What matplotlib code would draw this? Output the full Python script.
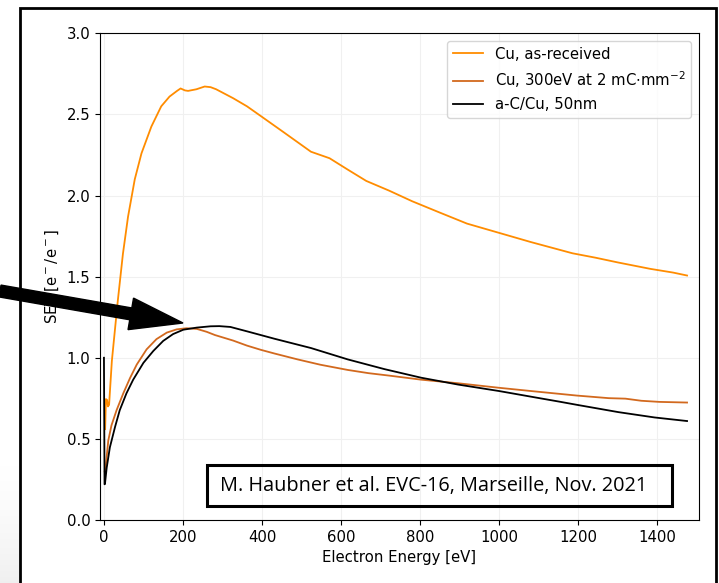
import matplotlib
matplotlib.use("Agg")
import matplotlib.pyplot as plt
import numpy as np
from matplotlib.patches import FancyArrow, Rectangle
from matplotlib.transforms import IdentityTransform

plt.rcParams["font.size"] = 10.7

# Cu, as-received
cu_raw_energy = [3, 5, 8, 10, 13, 20, 35, 48, 61, 78, 95, 120, 145, 166, 185, 194,
                 205, 213, 234, 255, 270, 284, 327, 362, 397, 455, 524, 571, 617,
                 664, 722, 780, 849, 919, 1000, 1081, 1186, 1244, 1302, 1383,
                 1441, 1476]
cu_raw_sey = [0.56, 0.745, 0.74, 0.70, 0.71, 0.98, 1.35, 1.64, 1.87, 2.10, 2.26,
              2.425, 2.55, 2.61, 2.645, 2.66, 2.648, 2.645, 2.655, 2.672, 2.668,
              2.655, 2.60, 2.55, 2.49, 2.39, 2.27, 2.23, 2.16, 2.09, 2.03, 1.965,
              1.896, 1.827, 1.77, 1.713, 1.644, 1.617, 1.587, 1.548, 1.525, 1.507]

# Cu, 300eV at 2 mC/mm^2
cu_cond_energy = [2, 5, 11, 19, 32, 49, 66, 83, 108, 133, 159, 184, 209, 235, 260,
                  281, 327, 362, 397, 432, 490, 548, 617, 670, 722, 803, 896, 1000,
                  1093, 1197, 1278, 1320, 1360, 1406, 1476]
cu_cond_sey = [0.30, 0.344, 0.49, 0.583, 0.677, 0.781, 0.875, 0.958, 1.052, 1.115,
               1.155, 1.175, 1.182, 1.178, 1.16, 1.14, 1.106, 1.075, 1.049, 1.026,
               0.99, 0.957, 0.925, 0.905, 0.89, 0.865, 0.843, 0.815, 0.792, 0.767,
               0.751, 0.748, 0.735, 0.728, 0.724]

# a-C/Cu, 50nm
ac_energy = [0, 1.5, 2.5, 7, 15, 28, 40, 57, 74, 100, 125, 150, 175, 201, 235,
             270, 292, 320, 362, 432, 524, 617, 710, 803, 896, 1000, 1093, 1154,
             1197, 1302, 1394, 1476]
ac_sey = [1.0, 0.22, 0.222, 0.323, 0.448, 0.573, 0.677, 0.781, 0.865, 0.969,
          1.042, 1.104, 1.146, 1.173, 1.186, 1.194, 1.195, 1.19, 1.163, 1.117,
          1.06, 0.99, 0.93, 0.877, 0.835, 0.795, 0.755, 0.729, 0.71, 0.665,
          0.632, 0.61]

W, H = 719, 583
fig = plt.figure(figsize=(W / 100, H / 100), dpi=100)

# soft grey slide shading in the lower left corner (light on top, darker below)
bg = fig.add_axes([0, 0, 20 / W, 130 / H])
shade = np.linspace(0.0, 1.0, 64)[:, None] ** 1.5
bg.imshow(shade, cmap="Greys", vmin=0, vmax=8, aspect="auto",
          extent=[0, 1, 0, 1], origin="upper")
bg.set_axis_off()

ax = fig.add_axes([100 / W, 1 - 520 / H, 598.5 / W, (520 - 33.3) / H])

ax.plot(cu_raw_energy, cu_raw_sey, color="darkorange", lw=1.3, label="Cu, as-received")
ax.plot(cu_cond_energy, cu_cond_sey, color="chocolate", lw=1.3,
        label=r"Cu, 300eV at 2 mC$\cdot$mm$^{-2}$")
ax.plot(ac_energy, ac_sey, color="black", lw=1.3, label="a-C/Cu, 50nm")

ax.set_xlim(-10, 1505)
ax.set_ylim(0, 3.0)
ax.set_xticks(range(0, 1401, 200))
ax.set_yticks([0.0, 0.5, 1.0, 1.5, 2.0, 2.5, 3.0])
ax.grid(color="#f0f0f0", lw=0.8)
ax.set_xlabel("Electron Energy [eV]")
ax.set_ylabel(r"SEY [e$^-$/e$^-$]")
ax.legend(loc="upper right")

# slide frame around the plot
fig.add_artist(Rectangle((20, -20), 696, 583 - 8 + 20, transform=IdentityTransform(),
                         fill=False, lw=2, ec="black"))

# citation box
fig.add_artist(Rectangle((207, H - 506), 465, 41, transform=IdentityTransform(),
                         fill=False, lw=2.2, ec="black"))
fig.text(434 / W, 1 - 486 / H, "M. Haubner et al. EVC-16, Marseille, Nov. 2021",
         ha="center", va="center", fontsize=14.3, family="Open Sans")

# overlaid pointer arrow
fig.add_artist(FancyArrow(0, H - 291, 183, -32, width=12, head_width=32,
                          head_length=53, length_includes_head=True,
                          color="black", transform=IdentityTransform()))

fig.savefig("out.png", dpi=100)
